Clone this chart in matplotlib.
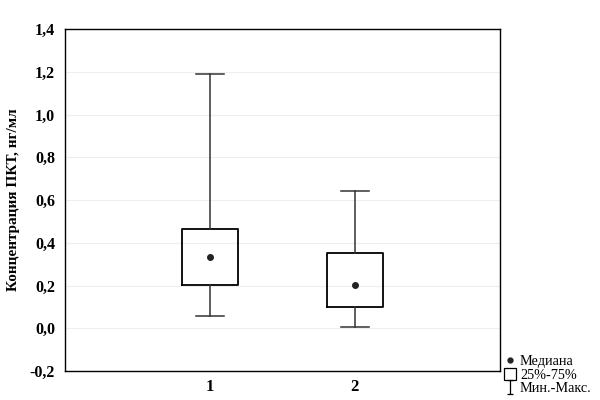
import matplotlib
matplotlib.use("Agg")
import matplotlib.pyplot as plt
from matplotlib.lines import Line2D
from matplotlib.path import Path

plt.rcParams['font.family'] = ['Liberation Serif', 'DejaVu Serif']

groups = ["1", "2"]
medians = [0.331, 0.203]
q1 = [0.204, 0.100]
q3 = [0.463, 0.354]
mins = [0.058, 0.005]
maxs = [1.19, 0.641]
yticks = [-0.2, 0.0, 0.2, 0.4, 0.6, 0.8, 1.0, 1.2, 1.4]
ytick_labels = ["-0,2", "0,0", "0,2", "0,4", "0,6", "0,8", "1,0", "1,2", "1,4"]
ylabel = "Концентрация ПКТ, нг/мл"
legend_labels = ["Медиана", "25%-75%", "Мин.-Макс."]

fig = plt.figure(figsize=(6, 4), dpi=100)
ax = fig.add_axes([0.108, 0.0725, 0.725, 0.855])

stats = []
for i, g in enumerate(groups):
    stats.append(dict(label=g, med=medians[i], q1=q1[i], q3=q3[i],
                      whislo=mins[i], whishi=maxs[i], fliers=[]))
positions = [1, 2]
ax.bxp(stats, positions=positions, widths=0.39, showfliers=False,
       boxprops=dict(color='black', linewidth=1.3),
       whiskerprops=dict(color='#333333', linewidth=1.1),
       capprops=dict(color='#333333', linewidth=1.1),
       medianprops=dict(linewidth=0), capwidths=0.19)
ax.plot(positions, medians, 'o', color='#222222', markersize=4, zorder=5)

ax.set_xlim(0, 3)
ax.set_ylim(-0.2, 1.4)
ax.set_yticks(yticks)
ax.set_yticklabels(ytick_labels, fontsize=11.5, fontweight='bold')
ax.set_xticks(positions)
ax.set_xticklabels(groups, fontsize=12, fontweight='bold')
ax.tick_params(axis='y', length=0, pad=7)
ax.tick_params(axis='x', length=0, pad=6)
ax.yaxis.grid(True, color='#eeeeee', linewidth=0.8)
ax.set_axisbelow(True)
for s in ax.spines.values():
    s.set_color('black')
    s.set_linewidth(1.0)
ax.set_ylabel(ylabel, fontsize=11, fontweight='bold', labelpad=7)

ibeam = Path([(-0.5, -1), (0.5, -1), (0, -1), (0, 1), (-0.5, 1), (0.5, 1)],
             [Path.MOVETO, Path.LINETO, Path.MOVETO, Path.LINETO, Path.MOVETO, Path.LINETO])
handles = [
    Line2D([], [], linestyle='none', marker='o', color='#222222', markersize=3.5),
    Line2D([], [], linestyle='none', marker='s', markerfacecolor='white',
           markeredgecolor='black', markersize=8.5, markeredgewidth=0.9),
    Line2D([], [], linestyle='none', marker=ibeam, color='black', markersize=10,
           markeredgewidth=0.9),
]
fig.legend(handles, legend_labels, loc='lower left', bbox_to_anchor=(0.826, -0.01),
           frameon=False, fontsize=10.3, handlelength=0.8, handletextpad=0.3,
           labelspacing=0.05, borderaxespad=0.2)

fig.savefig("out.png", dpi=100)
